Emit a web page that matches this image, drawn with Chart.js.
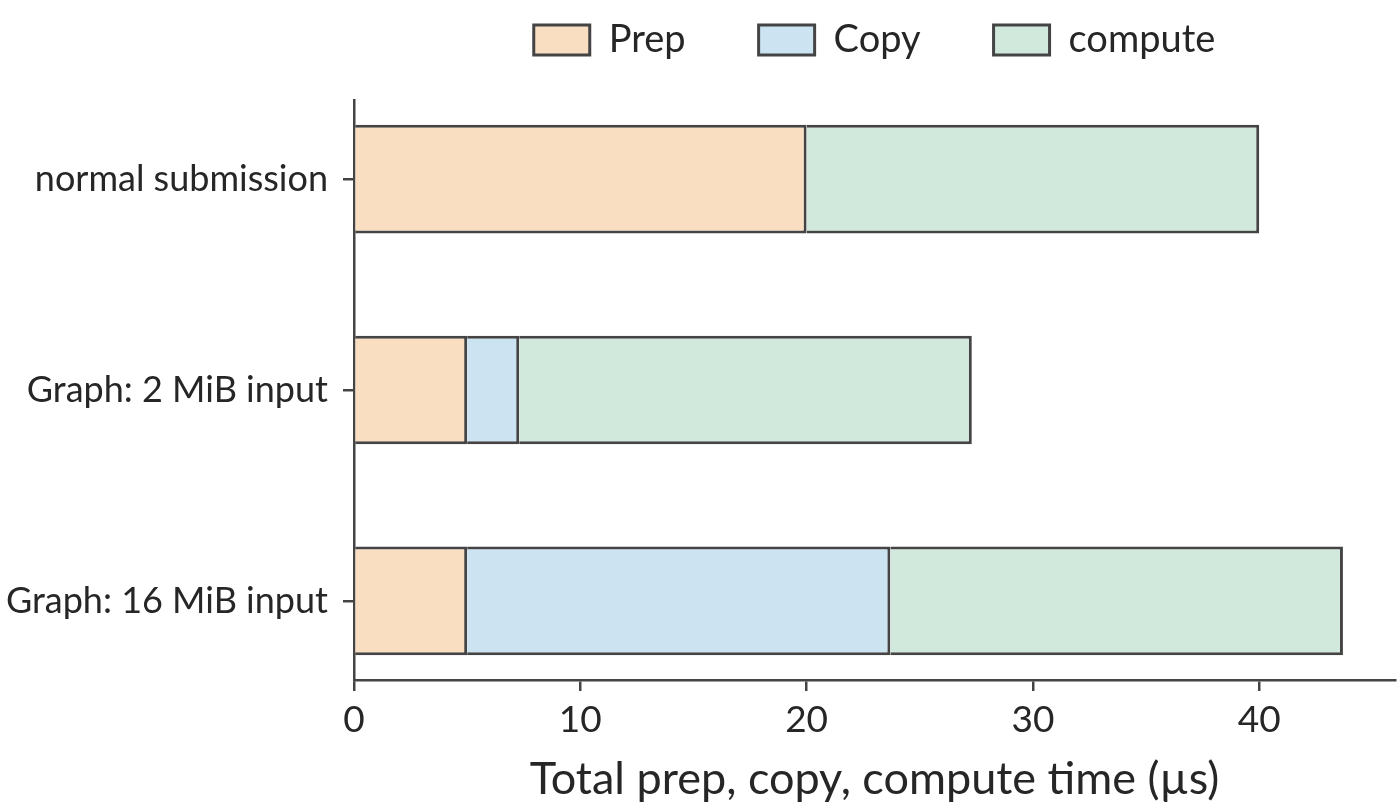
<!DOCTYPE html>
<html>
<head>
<meta charset="utf-8">
<title>Prep, copy, compute time</title>
<script src="https://cdn.jsdelivr.net/npm/chart.js@4.4.0/dist/chart.umd.min.js"></script>
<style>
	html, body { margin: 0; padding: 0; background: #fff; }
	#wrap { width: 1400px; height: 810px; }
</style>
</head>
<body>
<div id="wrap"><canvas id="time-chart" width="1400" height="810"></canvas></div>
<script>
// Data (µs)
const categories = ["normal submission", "Graph: 2 MiB input", "Graph: 16 MiB input"];
const prepTime = [20, 5, 5];
const copyTime = [0, 2.3, 18.7];
const computeTime = [20, 20, 20];
const xTicks = [0, 10, 20, 30, 40];

const FONT = "Lato";
const TEXT_COLOR = "#262626";
const LINE_COLOR = "#444444";

// horizontal bars on a numeric y scale, one point per category index
function toPoints(values) {
	return values.map((v, i) => ({ x: v, y: i }));
}

// leaves a gap between the legend and the plot area
const legendSpacer = {
	id: "legendSpacer",
	beforeInit(chart) {
		const origFit = chart.legend.fit;
		chart.legend.fit = function () {
			origFit.call(this);
			this.height = 152;
		};
	},
};

const axisGrid = {
	offset: false,
	drawOnChartArea: false,
	drawTicks: true,
	tickLength: 11,
	lineWidth: 2.5,
	color: LINE_COLOR,
};
const axisBorder = { color: LINE_COLOR, width: 2.5 };

const data = {
	datasets: [
		{
			label: "Prep",
			data: toPoints(prepTime),
			backgroundColor: "#F9DEC2",
			borderColor: LINE_COLOR,
			borderWidth: 3,
		},
		{
			label: "Copy",
			data: toPoints(copyTime),
			backgroundColor: "#CCE3F2",
			borderColor: LINE_COLOR,
			borderWidth: 3,
		},
		{
			label: "compute",
			data: toPoints(computeTime),
			backgroundColor: "#D1E9DC",
			borderColor: LINE_COLOR,
			borderWidth: 3,
		},
	],
};

const chartConfig = {
	type: "bar",
	data: data,
	options: {
		indexAxis: "y",
		responsive: false,
		animation: false,
		categoryPercentage: 1,
		barPercentage: 0.515,
		// negative top padding pulls the legend up, its fit() keeps the plot top at 100px
		layout: { padding: { top: -52, right: 5, left: 0, bottom: 0 } },
		plugins: {
			legend: {
				position: "top",
				fullSize: false,
				labels: {
					boxWidth: 56,
					boxHeight: 30,
					padding: 73,
					color: TEXT_COLOR,
					font: { family: FONT, size: 38 },
				},
			},
			title: { display: false },
			tooltip: { enabled: false },
		},
		scales: {
			x: {
				type: "linear",
				position: "bottom",
				stacked: true,
				offset: false,
				min: 0,
				max: 46,
				z: 1,
				afterBuildTicks(axis) {
					axis.ticks = xTicks.map((v) => ({ value: v }));
				},
				ticks: {
					color: TEXT_COLOR,
					font: { family: FONT, size: 37 },
					padding: 7,
				},
				grid: axisGrid,
				border: axisBorder,
				title: {
					display: true,
					text: "Total prep, copy, compute time (µs)",
					color: TEXT_COLOR,
					font: { family: FONT, size: 45 },
					padding: { top: 0, bottom: 4 },
				},
				afterFit(axis) {
					axis.height = 130;
				},
			},
			y: {
				type: "linear",
				stacked: true,
				offset: false,
				reverse: true,
				min: -0.375,
				max: 2.375,
				z: 1,
				afterBuildTicks(axis) {
					axis.ticks = categories.map((c, i) => ({ value: i }));
				},
				ticks: {
					color: TEXT_COLOR,
					font: { family: FONT, size: 36 },
					padding: 15,
					callback: (value) => categories[value],
				},
				grid: axisGrid,
				border: axisBorder,
				afterFit(axis) {
					axis.width = 354;
				},
			},
		},
	},
	plugins: [legendSpacer],
};

let timeChart = new Chart(document.getElementById("time-chart"), chartConfig);
</script>
</body>
</html>
